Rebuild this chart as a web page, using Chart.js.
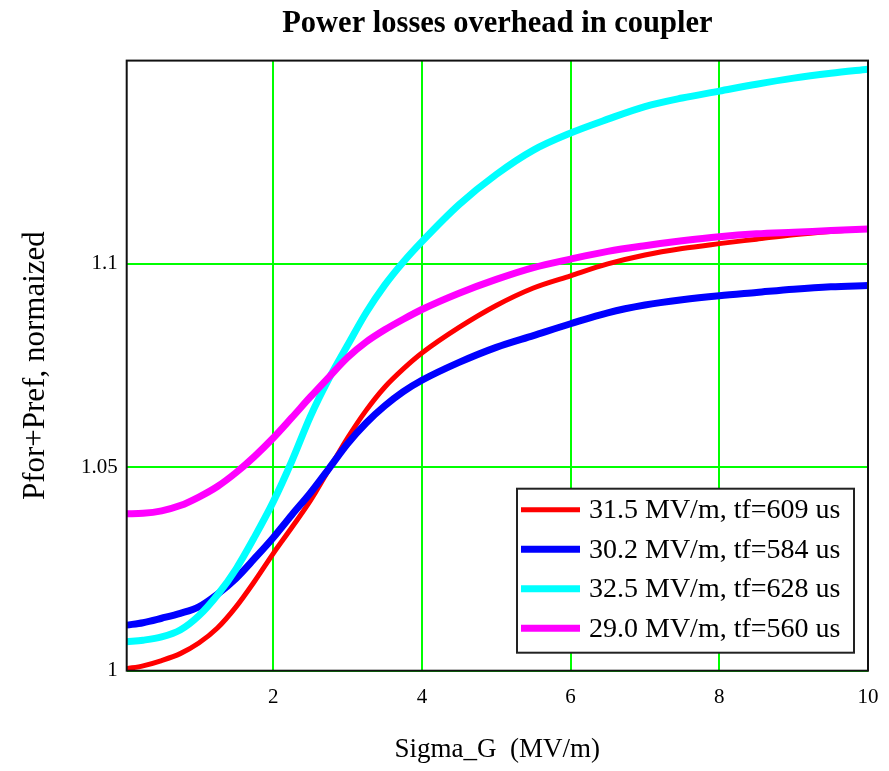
<!DOCTYPE html>
<html>
<head>
<meta charset="utf-8">
<script src="https://cdn.jsdelivr.net/npm/chart.js@4.4.1/dist/chart.umd.min.js"></script>
<style>
  html, body { margin: 0; padding: 0; background: #fff; }
  #caixa { width: 889px; height: 771px; }
</style>
</head>
<body>
<div id="caixa"><canvas id="grafico" width="889" height="771"></canvas></div>
<script>
  // valores
  const sigmaG = [0.03, 0.25, 0.5, 0.75, 1, 1.25, 1.5, 1.75, 2, 2.25, 2.5, 2.75, 3, 3.25, 3.5, 3.75, 4, 4.5, 5, 5.5, 6, 6.5, 7, 7.5, 8, 8.5, 9, 9.5, 10];

  const serie315 = [1.0005, 1.0012, 1.0025, 1.0042, 1.0068, 1.0105, 1.0157, 1.0220, 1.0288, 1.0352, 1.0418, 1.0495, 1.0572, 1.0640, 1.0697, 1.0742, 1.0781, 1.0844, 1.0898, 1.0941, 1.0971, 1.1000, 1.1022, 1.1038, 1.1050, 1.1061, 1.1072, 1.1080, 1.1086];
  const serie302 = [1.0112, 1.0118, 1.0129, 1.0141, 1.0157, 1.0188, 1.0227, 1.0276, 1.0327, 1.0383, 1.0437, 1.0497, 1.0558, 1.0609, 1.0651, 1.0686, 1.0714, 1.0758, 1.0795, 1.0824, 1.0853, 1.0880, 1.0899, 1.0912, 1.0922, 1.0930, 1.0938, 1.0944, 1.0947];
  const serie325 = [1.0071, 1.0075, 1.0083, 1.0100, 1.0135, 1.0186, 1.0250, 1.0329, 1.0415, 1.0515, 1.0625, 1.0718, 1.0800, 1.0880, 1.0948, 1.1005, 1.1055, 1.1146, 1.1220, 1.1280, 1.1322, 1.1356, 1.1387, 1.1408, 1.1425, 1.1442, 1.1457, 1.1469, 1.1479];
  const serie290 = [1.0386, 1.0387, 1.0393, 1.0406, 1.0427, 1.0453, 1.0487, 1.0527, 1.0572, 1.0622, 1.0673, 1.0722, 1.0770, 1.0808, 1.0838, 1.0864, 1.0888, 1.0928, 1.0962, 1.0991, 1.1012, 1.1031, 1.1045, 1.1057, 1.1067, 1.1074, 1.1078, 1.1082, 1.1086];

  const rotulos = ['31.5 MV/m, tf=609 us', '30.2 MV/m, tf=584 us', '32.5 MV/m, tf=628 us', '29.0 MV/m, tf=560 us'];
  const ticksX = [2, 4, 6, 8, 10];
  const ticksY = [1, 1.05, 1.1];

  const cores = ['#ff0000', '#0000ff', '#00ffff', '#ff00ff'];
  const espessuras = [5, 7, 7, 7];
  const serif = '"Liberation Serif", "Times New Roman", serif';

  const pontos = serie => sigmaG.map((x, i) => ({ x, y: serie[i] }));

  // moldura preta em volta da area do grafico
  const moldura = {
    id: 'moldura',
    afterDatasetsDraw(chart) {
      const { ctx, chartArea: a } = chart;
      ctx.save();
      ctx.strokeStyle = '#111';
      ctx.lineWidth = 2;
      ctx.strokeRect(a.left, a.top, a.right - a.left, a.bottom - a.top);
      ctx.restore();
    }
  };

  // legenda dentro do grafico, canto inferior direito
  const legendaInterna = {
    id: 'legendaInterna',
    afterDraw(chart) {
      const { ctx, chartArea: a } = chart;
      const w = 337, h = 164;
      const x0 = a.right - 14 - w;
      const y0 = a.bottom - 18 - h;
      ctx.save();
      ctx.fillStyle = '#fff';
      ctx.fillRect(x0, y0, w, h);
      ctx.strokeStyle = '#222';
      ctx.lineWidth = 2;
      ctx.strokeRect(x0, y0, w, h);
      ctx.font = `28px ${serif}`;
      ctx.textBaseline = 'middle';
      chart.data.datasets.forEach((ds, i) => {
        const y = y0 + 21 + i * 39.5;
        ctx.beginPath();
        ctx.strokeStyle = ds.borderColor;
        ctx.lineWidth = ds.borderWidth;
        ctx.moveTo(x0 + 4, y);
        ctx.lineTo(x0 + 63, y);
        ctx.stroke();
        ctx.fillStyle = '#000';
        ctx.fillText(ds.label, x0 + 72, y + 1);
      });
      ctx.restore();
    }
  };

  const series = [serie315, serie302, serie325, serie290];

  window.grafico = new Chart(document.getElementById('grafico'), {
    type: 'line',
    data: {
      datasets: series.map((s, i) => ({
        label: rotulos[i],
        data: pontos(s),
        borderColor: cores[i],
        backgroundColor: cores[i],
        borderWidth: espessuras[i],
        pointRadius: 0,
        cubicInterpolationMode: 'monotone',
        fill: false,
        order: series.length - 1 - i
      }))
    },
    options: {
      responsive: false,
      animation: false,
      layout: { padding: { left: 0, right: 21, top: 0, bottom: 0 } },
      plugins: {
        legend: { display: false },
        tooltip: { enabled: false },
        title: {
          display: true,
          fullSize: false,
          text: 'Power losses overhead in coupler',
          color: '#000',
          font: { family: serif, size: 30.5, weight: 'bold' },
          padding: { top: 6, bottom: 18 }
        }
      },
      scales: {
        x: {
          type: 'linear',
          min: 0.03,
          max: 10,
          afterBuildTicks: s => { s.ticks = ticksX.map(v => ({ value: v })); },
          afterFit: s => { s.height = 100.3; },
          grid: { color: '#00ff00', lineWidth: 2, drawTicks: false },
          border: { display: false },
          ticks: {
            color: '#000', padding: 10, maxRotation: 0, autoSkip: false,
            font: { family: serif, size: 21, lineHeight: 1.6 },
            callback: v => String(v)
          },
          title: {
            display: true, text: 'Sigma_G  (MV/m)', color: '#000',
            font: { family: serif, size: 27 },
            padding: { top: 0, bottom: 5 }
          }
        },
        y: {
          min: 1,
          max: 1.15,
          afterBuildTicks: s => { s.ticks = ticksY.map(v => ({ value: v })); },
          afterFit: s => { s.width = 126.7; },
          grid: { color: '#00ff00', lineWidth: 2, drawTicks: false },
          border: { display: false },
          ticks: {
            color: '#000', padding: 9, autoSkip: false,
            font: { family: serif, size: 21 },
            callback: v => String(v)
          },
          title: {
            display: true, text: 'Pfor+Pref, normaized', color: '#000',
            font: { family: serif, size: 31 },
            padding: { top: 17, bottom: 0 }
          }
        }
      }
    },
    plugins: [moldura, legendaInterna]
  });
</script>
</body>
</html>
